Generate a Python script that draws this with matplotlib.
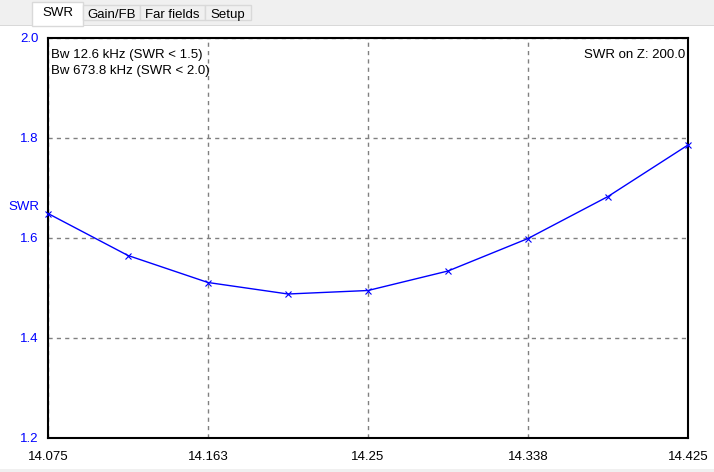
import matplotlib
matplotlib.use("Agg")
import matplotlib.pyplot as plt
from matplotlib.patches import Rectangle

freq = [14.075, 14.11875, 14.1625, 14.20625, 14.25, 14.29375, 14.3375, 14.38125, 14.425]
swr = [1.649, 1.565, 1.511, 1.488, 1.495, 1.534, 1.599, 1.683, 1.786]
xticks = [14.075, 14.1625, 14.25, 14.3375, 14.425]
xticklabels = ["14.075", "14.163", "14.25", "14.338", "14.425"]
yticks = [1.2, 1.4, 1.6, 1.8, 2.0]
yticklabels = ["1.2", "1.4", "1.6", "1.8", "2.0"]
tabs = ["SWR", "Gain/FB", "Far fields", "Setup"]

plt.rcParams['font.family'] = ['Liberation Sans', 'DejaVu Sans']
W, H = 714, 472
fig = plt.figure(figsize=(W/100, H/100), dpi=100)
fig.patch.set_facecolor('white')

def px(x, y, w, h):
    return (x/W, 1 - (y+h)/H, w/W, h/H)

# top tab strip
fig.patches.append(Rectangle((0, 1-25/H), 1, 25/H, transform=fig.transFigure,
                             facecolor='#f0f0f0', edgecolor='none', zorder=0))
fig.patches.append(Rectangle((0, 1-25.5/H), 1, 0.001, transform=fig.transFigure,
                             facecolor='#d9d9d9', edgecolor='none', zorder=0))
tab_x = [32, 83, 140, 205, 251]
for i, name in enumerate(tabs):
    x0, x1 = tab_x[i], tab_x[i+1]
    sel = (i == 0)
    y0 = 2 if sel else 5
    h = (26 if sel else 20) - y0
    r = Rectangle((x0/W, 1-(y0+h)/H), (x1-x0)/W, h/H, transform=fig.transFigure,
                  facecolor='white' if sel else '#f0f0f0', edgecolor='#d9d9d9',
                  linewidth=1, zorder=1)
    fig.patches.append(r)
    fig.text((x0+x1)/2/W, 1-(13 if sel else 15)/H, name, ha='center', va='center',
             fontsize=9.5, color='black')

# bottom strip
fig.patches.append(Rectangle((0, 0), 1, 3/H, transform=fig.transFigure,
                             facecolor='#f0f0f0', edgecolor='none', zorder=0))

ax = fig.add_axes(px(48, 38, 640, 400))
ax.plot(freq, swr, color='#0000ff', linewidth=1, marker='x', markersize=5,
        markeredgewidth=0.8, clip_on=False, zorder=3)
ax.set_xlim(14.075, 14.425)
ax.set_ylim(1.2, 2.0)
ax.set_xticks(xticks)
ax.set_xticklabels(xticklabels)
ax.set_yticks(yticks)
ax.set_yticklabels(yticklabels)
ax.tick_params(axis='both', length=0, labelsize=9.5)
ax.tick_params(axis='y', colors='#0000ff', pad=7)
ax.tick_params(axis='x', colors='black', pad=9)
for s in ax.spines.values():
    s.set_linewidth(1.5)
    s.set_color('black')
ax.grid(True, color='#808080', linestyle=(0, (3, 3)), linewidth=1)
ax.set_axisbelow(True)

fig.text(8/W, 1-207/H, "SWR", color='#0000ff', fontsize=9.5, ha='left', va='center')
fig.text(51/W, 1-55/H, "Bw 12.6 kHz (SWR < 1.5)", ha='left', va='center',
         fontsize=9.5, color='black')
fig.text(51/W, 1-71/H, "Bw 673.8 kHz (SWR < 2.0)", ha='left', va='center',
         fontsize=9.5, color='black')
fig.text(685/W, 1-55/H, "SWR on Z: 200.0", ha='right', va='center',
         fontsize=9.5, color='black')

fig.savefig("out.png", dpi=100, facecolor='white')
